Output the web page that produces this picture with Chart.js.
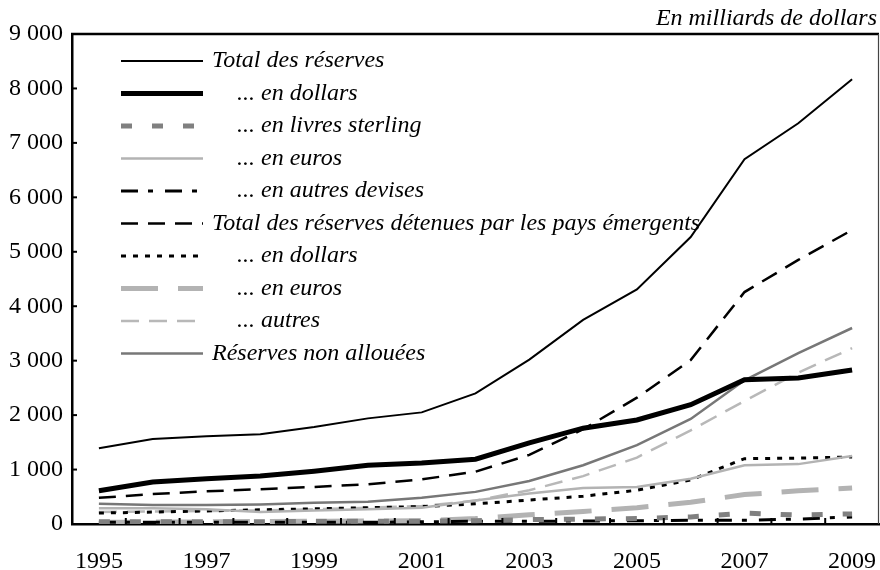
<!DOCTYPE html>
<html>
<head>
<meta charset="utf-8">
<script src="https://cdn.jsdelivr.net/npm/chart.js@4.4.1/dist/chart.umd.min.js"></script>
<style>
  html, body { margin: 0; padding: 0; background: #fff; }
  canvas { display: block; }
</style>
</head>
<body>
<canvas id="graphique" width="880" height="570"></canvas>
<script>
// Années (axe des x)
const annees = ['1995','1996','1997','1998','1999','2000','2001','2002','2003','2004','2005','2006','2007','2008','2009'];

// Séries, en milliards de dollars
const totalReserves    = [1390, 1560, 1610, 1650, 1780, 1940, 2050, 2400, 3020, 3750, 4310, 5270, 6700, 7360, 8170];
const enDollars        = [610, 770, 830, 880, 970, 1080, 1120, 1190, 1490, 1760, 1910, 2190, 2650, 2680, 2830];
const enLivres         = [40, 40, 40, 40, 50, 50, 50, 60, 80, 90, 100, 130, 200, 165, 185];
const enEuros          = [290, 290, 270, 220, 250, 270, 300, 430, 560, 660, 680, 830, 1080, 1100, 1250];
const enAutresDevises  = [30, 30, 30, 30, 30, 30, 40, 50, 50, 55, 60, 70, 70, 90, 130];
const totalEmergents   = [480, 550, 600, 640, 680, 730, 820, 960, 1270, 1740, 2320, 3010, 4260, 4850, 5400];
const emergentsDollars = [200, 220, 240, 260, 280, 300, 320, 370, 440, 510, 620, 810, 1200, 1210, 1230];
const emergentsEuros   = [30, 35, 40, 45, 50, 55, 60, 100, 170, 230, 300, 400, 540, 610, 660];
const emergentsAutres  = [220, 230, 240, 250, 270, 300, 330, 430, 620, 880, 1220, 1720, 2260, 2780, 3230];
const nonAllouees      = [370, 350, 350, 360, 390, 410, 480, 590, 790, 1080, 1450, 1930, 2640, 3140, 3600];

// Libellés de la légende
const libelles = [
  'Total des réserves',
  '... en dollars',
  '... en livres sterling',
  '... en euros',
  '... en autres devises',
  'Total des réserves détenues par les pays émergents',
  '... en dollars',
  '... en euros',
  '... autres',
  'Réserves non allouées'
];

const police = "'Liberation Serif', 'Times New Roman', serif";
const taille = 24;
Chart.defaults.font.family = police;
Chart.defaults.color = '#000';

function serie(i, data, couleur, epaisseur, tirets) {
  return {
    label: libelles[i],
    data: data,
    borderColor: couleur,
    backgroundColor: couleur,
    borderWidth: epaisseur,
    borderDash: tirets || [],
    pointRadius: 0,
    tension: 0,
    fill: false
  };
}

function formatMilliers(v) {
  return String(v).replace(/\B(?=(\d{3})+(?!\d))/g, ' ');
}

// Cadre, petites graduations intérieures et titre
const cadrePlugin = {
  id: 'cadre',
  afterDraw(chart) {
    const ctx = chart.ctx;
    const a = chart.chartArea;
    const sx = chart.scales.x, sy = chart.scales.y;
    ctx.save();
    ctx.strokeStyle = '#000';
    ctx.lineWidth = 2.5;
    ctx.beginPath();
    ctx.moveTo(a.left - 1, a.top);
    ctx.lineTo(a.right, a.top);
    ctx.stroke();
    ctx.lineWidth = 1.2;
    ctx.strokeStyle = '#444';
    ctx.beginPath();
    ctx.moveTo(a.right - 0.5, a.top);
    ctx.lineTo(a.right - 0.5, a.bottom);
    ctx.stroke();

    ctx.strokeStyle = '#000';
    ctx.lineWidth = 2;
    sy.ticks.forEach(function(t) {
      const py = sy.getPixelForValue(t.value);
      ctx.beginPath();
      ctx.moveTo(a.left, py);
      ctx.lineTo(a.left + 5, py);
      ctx.stroke();
    });
    for (let i = 1; i < annees.length; i++) {
      const px = (sx.getPixelForValue(i - 1) + sx.getPixelForValue(i)) / 2;
      ctx.beginPath();
      ctx.moveTo(px, a.bottom);
      ctx.lineTo(px, a.bottom - 6);
      ctx.stroke();
    }

    ctx.fillStyle = '#000';
    ctx.font = 'italic ' + taille + 'px ' + police;
    ctx.textAlign = 'right';
    ctx.textBaseline = 'alphabetic';
    ctx.fillText('En milliards de dollars', a.right - 2, 25);
    ctx.restore();
  }
};

// Légende dessinée à l'intérieur de la zone du graphique
const legendePlugin = {
  id: 'legendeInterne',
  afterDatasetsDraw(chart) {
    const ctx = chart.ctx;
    const a = chart.chartArea;
    ctx.save();
    ctx.font = 'italic ' + taille + 'px ' + police;
    ctx.textBaseline = 'middle';
    ctx.textAlign = 'left';
    chart.data.datasets.forEach(function(ds, i) {
      const y = a.top + 27 + i * 32.5;
      ctx.strokeStyle = ds.borderColor;
      ctx.lineWidth = ds.borderWidth;
      ctx.setLineDash(ds.borderDash);
      ctx.beginPath();
      ctx.moveTo(a.left + 49, y);
      ctx.lineTo(a.left + 131, y);
      ctx.stroke();
      ctx.setLineDash([]);
      ctx.fillStyle = '#000';
      const decal = ds.label.startsWith('...') ? 165 : 140;
      ctx.fillText(ds.label, a.left + decal, y);
    });
    ctx.restore();
  }
};

new Chart(document.getElementById('graphique'), {
  type: 'line',
  data: {
    labels: annees,
    datasets: [
      serie(0, totalReserves, '#000000', 2),
      serie(1, enDollars, '#000000', 5),
      serie(2, enLivres, '#808080', 5, [11, 20]),
      serie(3, enEuros, '#b3b3b3', 2.5),
      serie(4, enAutresDevises, '#000000', 3, [17, 10, 5, 12]),
      serie(5, totalEmergents, '#000000', 2.5, [17, 10]),
      serie(6, emergentsDollars, '#000000', 3, [5, 7]),
      serie(7, emergentsEuros, '#b3b3b3', 5, [37, 20]),
      serie(8, emergentsAutres, '#b8b8b8', 2.5, [18, 10]),
      serie(9, nonAllouees, '#777777', 2.5)
    ]
  },
  options: {
    responsive: false,
    animation: false,
    layout: { autoPadding: false, padding: { top: 34, right: 1, left: 0, bottom: 0 } },
    plugins: {
      legend: { display: false },
      tooltip: { enabled: false },
      title: { display: false }
    },
    scales: {
      x: {
        type: 'category',
        offset: true,
        grid: { display: false, drawTicks: false },
        border: { display: true, color: '#000', width: 2.5 },
        ticks: {
          autoSkip: false,
          maxRotation: 0,
          padding: 23,
          color: '#000',
          font: { size: taille },
          callback: function(v, i) { return i % 2 === 0 ? annees[i] : ''; }
        },
        afterFit: function(s) {
          s.height = 46;
          s.paddingLeft = 0; s.paddingRight = 0; s.paddingTop = 0; s.paddingBottom = 0;
        }
      },
      y: {
        min: 0,
        max: 9000,
        grid: { display: false, drawTicks: false },
        border: { display: true, color: '#000', width: 2.5 },
        ticks: {
          stepSize: 1000,
          padding: 9,
          color: '#000',
          font: { size: taille },
          callback: function(v) { return formatMilliers(v); }
        },
        afterFit: function(s) {
          s.width = 72;
          s.paddingLeft = 0; s.paddingRight = 0; s.paddingTop = 0; s.paddingBottom = 0;
        }
      }
    }
  },
  plugins: [cadrePlugin, legendePlugin]
});
</script>
</body>
</html>
